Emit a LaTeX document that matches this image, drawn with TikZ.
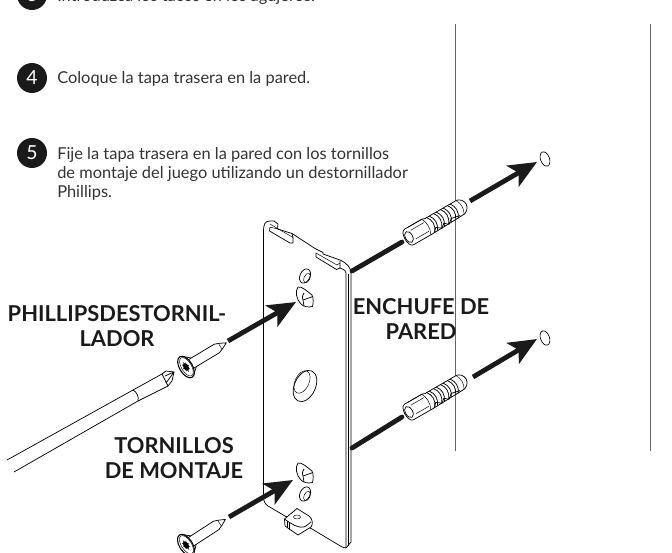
\documentclass[tikz,border=0pt]{standalone}
\usepackage{fontspec}
\setmainfont{Lato}
\usetikzlibrary{arrows.meta,calc}
\definecolor{inktext}{HTML}{333333}
\definecolor{inkdark}{HTML}{1A1A1A}
\definecolor{wallgray}{HTML}{666666}
\tikzset{
  stepnum/.style={circle,fill=inkdark,text=white,inner sep=0pt,minimum size=22.5pt,font=\fontsize{14.5}{15}\selectfont},
  steptext/.style={anchor=west,align=left,inner sep=0pt,text=inktext,font=\fontsize{12.3}{14.4}\selectfont},
  partlabel/.style={align=center,inner sep=0pt,text=inkdark,font=\fontsize{16.4}{18.8}\selectfont\bfseries},
  fatarrow/.style={line width=3.6pt,inkdark,-{Stealth[length=21pt,width=18pt,inset=5pt]}},
  fatline/.style={line width=3.6pt,inkdark,line cap=round},
  wall/.style={wallgray,line width=0.7pt},
  part/.style={black,line width=0.55pt,line join=round},
  fine/.style={black,line width=0.35pt},
  dowel/.pic={
    \draw[part,fill=white] (0,-9) -- (20,-9) -- (23,-8) -- (56,-8)
      .. controls (64,-9) and (66,-3) .. (66,0) .. controls (66,4) and (62,9) .. (56,8)
      -- (23,9) -- (0,9) .. controls (-6,9) and (-6,-9) .. (0,-9) -- cycle;
    \draw[part,fill=white] (0,0) ellipse (3.6 and 6);
    \draw[fine] (3,-9) -- (20,-9) (5,-5) -- (20,-5) (5,5) -- (20,5) (20,-9) .. controls (23,-3) and (23,3) .. (20,9);
    \foreach \ribx in {25,33,41,49} {
      \draw[part] (\ribx,-8) .. controls (\ribx+4,-3) and (\ribx+4,3) .. (\ribx,8.5);
      \draw[part] (\ribx+3,-8) .. controls (\ribx+7,-3) and (\ribx+7,3) .. (\ribx+3,8.5);
    }
    \draw[part] (24,9) -- (28,5) -- (33,9) -- (37,5.5) -- (41,9) -- (46,5) -- (55,7);
    \draw[fine] (59,-8) .. controls (62,-3) and (62,3) .. (59,8);
  },
  screw/.pic={
    \draw[part,fill=white] (5,-5) -- (36,-5) -- (41,-3) -- (47,0) -- (41,3) -- (36,5) -- (5,5) -- cycle;
    \draw[fine] (40,-3.5) -- (40,3.5);
    \draw[part,line width=0.8pt,fill=white] (0,0) ellipse (6.5 and 12);
    \draw[fine] (0.5,0) ellipse (5 and 10.4);
    \fill[black] (0,0) ellipse (2.6 and 4.2);
    \foreach \spoke in {0,45,...,315} \draw[fine,black] (0,0) -- ($(\spoke:3.2 and 5.4)$);
    \draw[part] (3,-10.5) -- (9,-5) (3,10.5) -- (9,5);
  },
}
\begin{document}
\begin{tikzpicture}[x=0.75pt,y=-0.75pt]
  \clip[use as bounding box] (0,0) rectangle (672,553);
  % Draw steps
  \node[stepnum] (num3) at (32,-5) {3};
  \node[steptext] (text3) at (57,-3) {Introduzca los tacos en los agujeros.};
  \node[stepnum] (num4) at (32,78) {4};
  \node[steptext] (text4) at (57,78.5) {Coloque la tapa trasera en la pared.};
  \node[stepnum] (num5) at (32,153) {5};
  \node[steptext,anchor=north west] (text5) at (57,147) {Fije la tapa trasera en la pared con los tornillos\\de montaje del juego utilizando un destornillador\\Phillips.};
  % Draw walls
  \coordinate (walltop1) at (455,24);
  \coordinate (wallbot1) at (455,451);
  \coordinate (walltop2) at (650,24);
  \coordinate (wallbot2) at (650,451);
  \draw[wall] (walltop1) -- (wallbot1);
  \draw[wall] (walltop2) -- (wallbot2);
  % Draw holes in the wall
  \draw[fine,line width=0.5pt] (545,159) ellipse[x radius=4.5,y radius=7.5,rotate=20];
  \draw[fine,line width=0.5pt] (545,338) ellipse[x radius=4.5,y radius=7.5,rotate=20];
  % Draw plate
  \draw[part,fill=white] (263.5,232) .. controls (263.5,224) and (265,221) .. (270,221)
    -- (274,221) -- (278,224) -- (277.5,229) -- (292,233.5) -- (315,248.5) -- (323,252.5)
    -- (323,254) -- (340,260) .. controls (347,263) and (351,268) .. (351,273)
    -- (351,542) -- (346,548) -- (342,547) -- (312,529) -- (285,516) -- (268,506)
    .. controls (265,504) and (263.5,501) .. (263.5,497) -- cycle;
  \draw[part] (346,548) -- (346,273) .. controls (346,271) and (345,270) .. (340,268);
  \draw[fine] (348,546) -- (348,274);
  % Draw the top tabs
  \draw[part] (270,227) -- (269.5,231) -- (290,243) -- (293,243) -- (293,237.5) -- (292,233.5);
  \draw[fine] (270,224) -- (293,237.5) (277.5,229) -- (270,227);
  \draw[part] (316,252.5) -- (316,257) -- (336.5,269.5) -- (340,268) -- (340,261);
  \draw[fine] (316,253) -- (337,265) -- (340,263);
  % Draw holes in the plate
  \draw[part] (305,276) ellipse[x radius=5,y radius=7.5,rotate=-25];
  \draw[fine] (307,278) ellipse[x radius=3,y radius=5,rotate=-25];
  \draw[part] (298,287) .. controls (302,286) and (308,292) .. (312,295) .. controls (313.5,298) and (313.5,303) .. (312.5,306.5)
    .. controls (308,307.5) and (304,307) .. (301,304) .. controls (296,299) and (295,291) .. (298,287) -- cycle;
  \draw[part] (304,293) .. controls (302,296) and (302,299) .. (303,300) -- (313,296.5) (303,300) -- (304,306);
  \draw[part] (305,386) ellipse[x radius=10.5,y radius=16.5,rotate=-25];
  \draw[fine] (302,382) ellipse[x radius=7,y radius=12,rotate=-25];
  \draw[part] (298,463) .. controls (302,462) and (308,468) .. (312,471) .. controls (313.5,474) and (313.5,479) .. (312.5,482.5)
    .. controls (308,483.5) and (304,483) .. (301,480) .. controls (296,475) and (295,467) .. (298,463) -- cycle;
  \draw[part] (304,469) .. controls (302,472) and (302,475) .. (303,476) -- (313,472.5) (303,476) -- (304,482);
  \draw[part] (305,494) ellipse[x radius=5,y radius=7.5,rotate=-25];
  \draw[fine] (307,496) ellipse[x radius=3,y radius=5,rotate=-25];
  % Draw the lug below the plate
  \draw[part,fill=white] (284.5,519) -- (297,508.5) -- (309,516) .. controls (313,519) and (313,525) .. (311,527)
    -- (298,535) -- (285,526) -- cycle;
  \draw[part] (284.5,519) .. controls (290,523) and (300,530) .. (306,526) -- (311,522);
  \draw[fine] (287,521) -- (287,528) (289,523) -- (289,530);
  \draw[fine] (297,517) ellipse[x radius=3.5,y radius=2];
  % Draw the dowels
  \pic at (409,237) [rotate=30] {dowel};
  \pic at (409,412) [rotate=30] {dowel};
  % Draw the screwdriver
  \coordinate (shafta) at (7,460);
  \coordinate (shaftb) at (14,472);
  \draw[part] (shafta) -- (133,390) -- (162,374);
  \draw[part] (shaftb) -- (138,401) -- (168,386);
  \draw[part] (133,390) .. controls (137,392) and (139,397) .. (138,401);
  \draw[part] (162,374) -- (166,371) -- (174,372) -- (172,381) -- (168,386);
  \draw[part] (162,374) -- (165,380) -- (168,386) (165,376) -- (174,372) -- (166,383);
  % Draw the screws
  \pic at (186,367) [rotate=31] {screw};
  \pic at (186,545) [rotate=33] {screw};
  % Draw the arrows
  \coordinate (screwstart1) at (228,341);
  \coordinate (screwend1) at (296,302);
  \coordinate (screwstart2) at (229,517);
  \coordinate (screwend2) at (293,480);
  \draw[fatarrow] (screwstart1) -- (screwend1);
  \draw[fatarrow] (screwstart2) -- (screwend2);
  \coordinate (plate1) at (352,271);
  \coordinate (gap1) at (402,242);
  \coordinate (out1) at (470,201);
  \coordinate (tip1) at (537,162);
  \coordinate (plate2) at (352,448);
  \coordinate (gap2) at (402,417);
  \coordinate (out2) at (473,377);
  \coordinate (tip2) at (537,339);
  \draw[fatline] (plate1) -- (gap1);
  \draw[fatarrow] (out1) -- (tip1);
  \draw[fatline] (plate2) -- (gap2);
  \draw[fatarrow] (out2) -- (tip2);
  % Draw the labels
  \node[partlabel] (driverlabel) at (117,326) {PHILLIPSDESTORNIL-\\LADOR};
  \node[partlabel] (screwlabel) at (174,458) {TORNILLOS\\DE MONTAJE};
  \node[partlabel] (socketlabel) at (421,319) {ENCHUFE DE\\PARED};
\end{tikzpicture}
\end{document}
